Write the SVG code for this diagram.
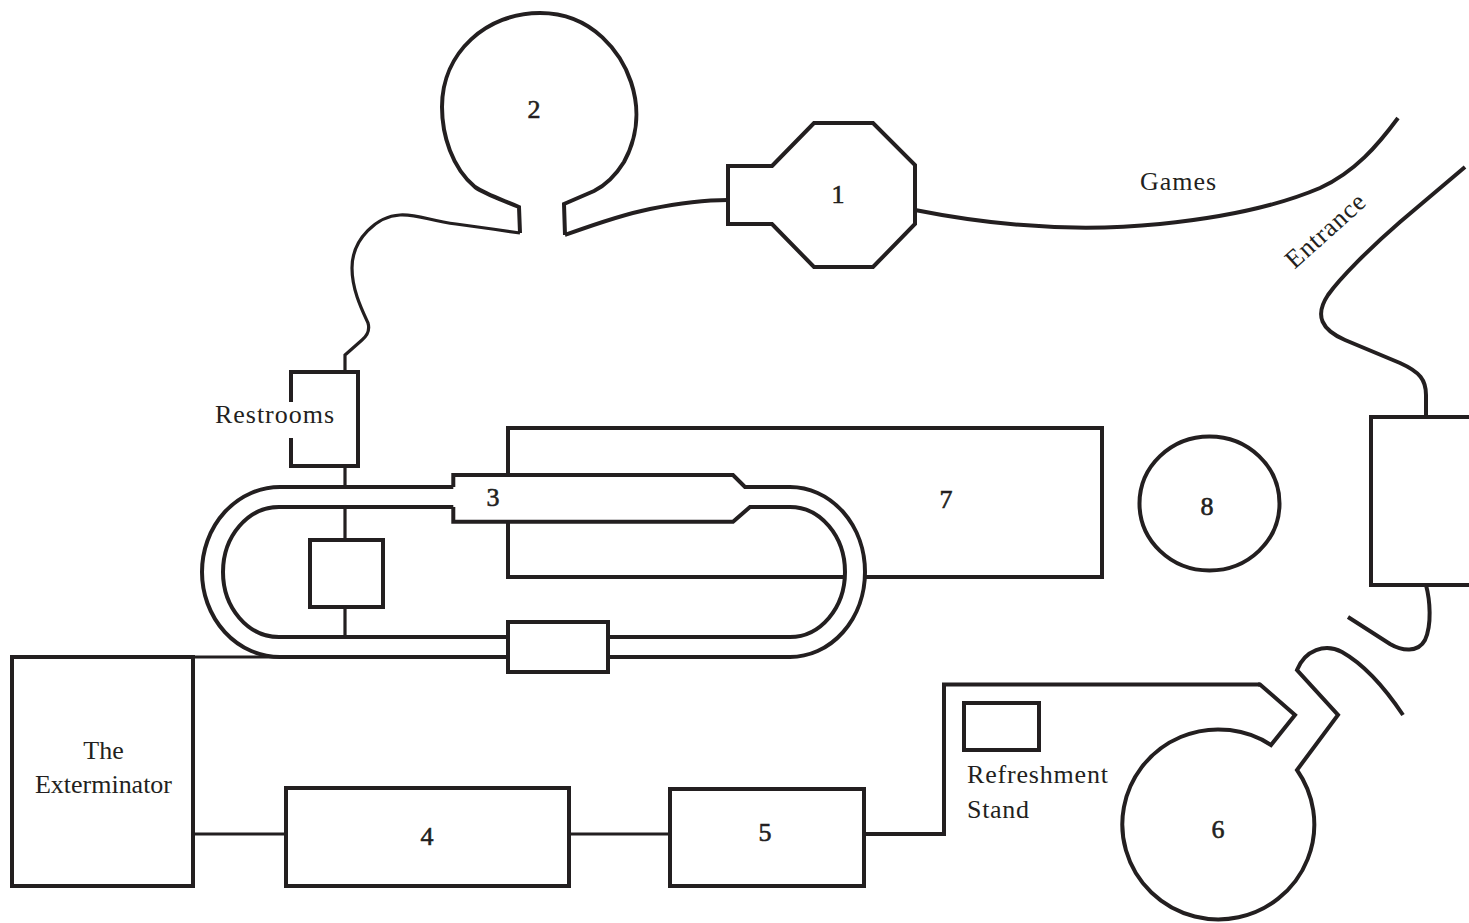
<svg xmlns="http://www.w3.org/2000/svg" width="1469" height="923" viewBox="0 0 1469 923">
<style>
.s{fill:none;stroke:#231f20;stroke-width:4;stroke-linejoin:miter}
.c{fill:none;stroke:#231f20;stroke-width:3.2}
.r{fill:none;stroke:#231f20;stroke-width:4}
.t{font-family:"Liberation Serif","Times New Roman",serif;font-size:26px;fill:#231f20}
.m{text-anchor:middle}
.d{stroke:#231f20;stroke-width:0.6}
</style>
<rect width="1469" height="923" fill="#fff"/>
<g id="connectors">
<path class="c" d="M520,233 C500,230 470,226 456,224 C430,221 418,214 400,215 C378,216 352,238 352,268 C352,290 362,310 368,323 C370,330 368,335 362,340 L345,355 V372"/>
<path class="s" d="M565,235 C590,226 620,215 650,209 C680,203 705,200 728,200"/>
<path class="s" d="M915,210 C990,225 1070,233 1160,224 C1230,217 1280,205 1320,188 C1355,172 1378,145 1398,118"/>
<path class="s" d="M1465,167 L1400,222 C1370,248 1340,278 1328,295 C1314,316 1322,330 1345,340 L1400,363 C1420,372 1426,380 1426,395 V417"/>
<path class="s" d="M1426,585 C1430,600 1432,625 1425,640 C1418,653 1402,651 1390,644 L1348,617"/>
<path class="c" d="M345,466 V487"/>
<path class="c" d="M193,657 H282"/>
<path class="c" d="M193,834 H286"/>
<path class="c" d="M569,834 H670"/>
<path class="s" d="M864,834 H944 V684.5 H1260"/>
</g>
<g id="node-2">
<path class="s" d="M520,233 L519,207 C500,199 485,194 475,187 C452,168 442,135 442,107 C442,52 487,13 540,13 C594,13 622,55 631,82 C641,112 636,140 624,162 C614,178 604,186 594,191 L564,204 L565,235"/>
<text class="t m d" x="534" y="118">2</text>
</g>
<g id="node-1">
<path class="s" d="M772,166 L814,123 H873 L915,165 V224 L873,267 H814 L772,224 H728 V166 Z"/>
<text class="t m d" x="838" y="203">1</text>
</g>
<g id="node-restrooms">
<path class="s" d="M291,402 V372 H358 V466 H291 V438"/>
<text class="t" x="215" y="423" textLength="119">Restrooms</text>
</g>
<g id="node-3">
<path class="s" d="M453.3,487 H280 A78,85 0 0 0 280,657 H508"/>
<path class="s" d="M453.3,487 V475 H733 L745,487 H790 A75,85 0 0 1 790,657 H608"/>
<path class="s" d="M453.3,507 H279 A56,65 0 0 0 279,637 H508"/>
<path class="s" d="M453.3,507 V521.7 H733 L750,507 H790 A55,65 0 0 1 790,637 H608"/>
<rect class="r" x="508" y="622" width="100" height="50"/>
<rect class="r" x="310" y="540" width="73" height="67"/>
<path class="c" d="M345,507 V540 M345,607 V637"/>
<text class="t m d" x="493" y="506">3</text>
</g>
<g id="node-7">
<path class="s" d="M508,475 V428 H1102 V577 H865 M845,577 H508 V521.7"/>
<text class="t m d" x="946" y="508">7</text>
</g>
<g id="node-8">
<ellipse class="r" cx="1209.5" cy="503.5" rx="70" ry="67"/>
<text class="t m d" x="1207" y="515">8</text>
</g>
<g id="node-entrance">
<rect class="r" x="1371" y="417" width="110" height="168"/>
<text class="t m" transform="translate(1331,237) rotate(-42)" textLength="98">Entrance</text>
</g>
<g id="node-games">
<text class="t" x="1140" y="190" textLength="76">Games</text>
</g>
<g id="node-exterminator">
<rect class="r" x="12" y="657" width="181" height="229"/>
<text class="t m" x="103.5" y="759">The</text>
<text class="t m" x="103.5" y="793" textLength="137">Exterminator</text>
</g>
<g id="node-4">
<rect class="r" x="286" y="788" width="283" height="98"/>
<text class="t m d" x="427" y="845">4</text>
</g>
<g id="node-5">
<rect class="r" x="670" y="789" width="194" height="97"/>
<text class="t m d" x="765" y="841">5</text>
</g>
<g id="node-refreshment">
<rect class="r" x="964" y="703" width="75" height="47" stroke-width="4.6"/>
<text class="t" x="967" y="783" textLength="141">Refreshment</text>
<text class="t" x="967" y="818" textLength="62">Stand</text>
</g>
<g id="node-6">
<path class="s" d="M1258,684.5 H1260 L1295,715 L1271,745 A96,95 0 1 0 1297,770 L1338,715 L1297,670 C1305,650 1325,643 1342,652 C1365,665 1385,688 1403,715"/>
<text class="t m d" x="1218" y="838">6</text>
</g>
</svg>
